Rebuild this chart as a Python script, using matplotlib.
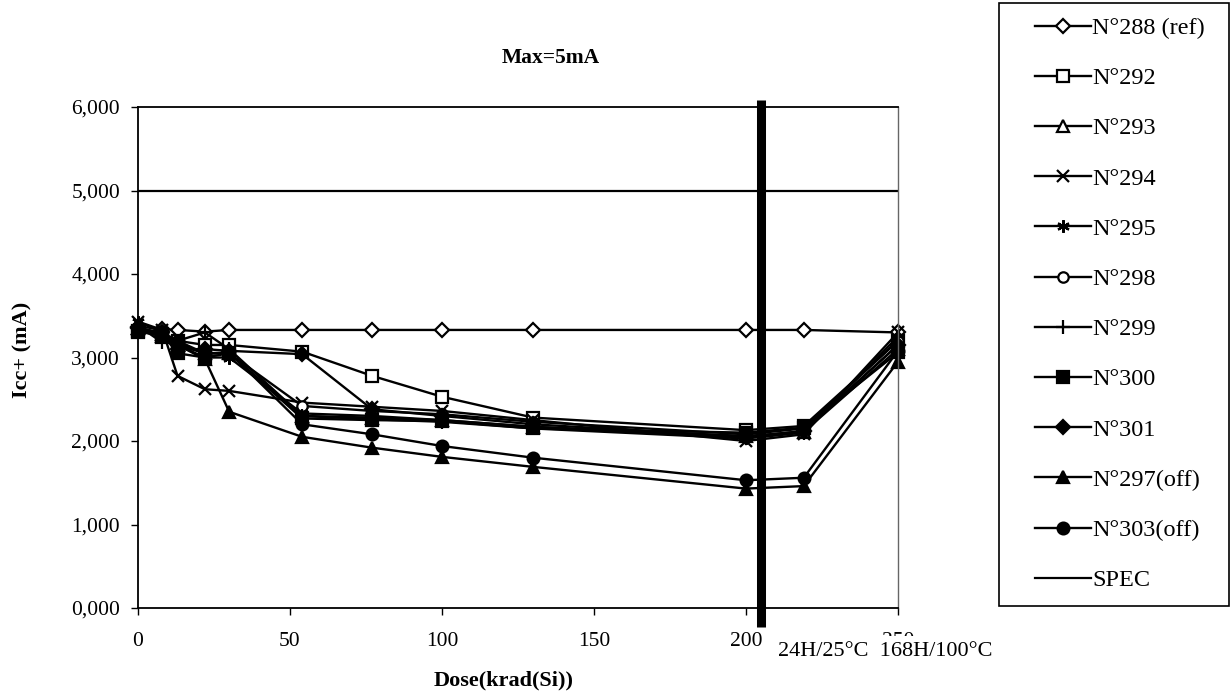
import matplotlib
matplotlib.use("Agg")
import matplotlib.pyplot as plt
from matplotlib.patches import Rectangle
from matplotlib.ticker import FuncFormatter

plt.rcParams['font.family'] = ['Liberation Serif', 'DejaVu Serif']

# Dose steps (krad(Si)); the last two points are the annealing steps
dose = [0, 8, 13, 22, 30, 54, 77, 100, 130, 200, 219, 250]

n288 = [3370, 3340, 3330, 3310, 3330, 3330, 3330, 3330, 3330, 3330, 3330, 3300]
n292 = [3320, 3250, 3200, 3150, 3150, 3070, 2780, 2530, 2280, 2130, 2180, 3200]
n293 = [3350, 3260, 3150, 3050, 3050, 2300, 2280, 2250, 2170, 2060, 2110, 3100]
n294 = [3430, 3330, 2780, 2620, 2600, 2460, 2410, 2360, 2250, 2000, 2080, 3300]
n295 = [3430, 3300, 3150, 3000, 3000, 2330, 2300, 2250, 2170, 2040, 2120, 3150]
n298 = [3360, 3280, 3170, 3050, 3050, 2420, 2360, 2320, 2230, 2080, 2150, 3200]
n299 = [3380, 3180, 3200, 3300, 3100, 2300, 2260, 2230, 2150, 2030, 2100, 3250]
n300 = [3300, 3280, 3050, 3000, 3050, 2270, 2250, 2240, 2150, 2100, 2160, 3060]
n301 = [3350, 3300, 3100, 3100, 3080, 3040, 2380, 2300, 2200, 2050, 2120, 3150]
n297 = [3350, 3280, 3150, 2980, 2350, 2050, 1920, 1810, 1690, 1430, 1460, 2950]
n303 = [3340, 3300, 3200, 3050, 3060, 2200, 2080, 1940, 1800, 1530, 1560, 3080]

spec_dose = [0, 250]
spec_value = [5000, 5000]
anneal_dose = 205

labels = ["N°288 (ref)", "N°292", "N°293", "N°294", "N°295", "N°298",
          "N°299", "N°300", "N°301", "N°297(off)", "N°303(off)", "SPEC"]
series = [n288, n292, n293, n294, n295, n298, n299, n300, n301, n297, n303]
x_ticks = [0, 50, 100, 150, 200, 250]
y_ticks = [0, 1000, 2000, 3000, 4000, 5000, 6000]

# marker, filled?, size
styles = [
    ("D", False, 7),
    ("s", False, 8.5),
    ("^", False, 8.5),
    ("x", True, 9),
    ((6, 2, 0), True, 9),
    ("o", False, 7.5),
    ("+", True, 10),
    ("s", True, 8.5),
    ("D", True, 7),
    ("^", True, 9),
    ("o", True, 8.5),
]

W, H = 1231, 695
fig = plt.figure(figsize=(W / 100, H / 100), dpi=100)
ax = fig.add_axes([138 / W, 1 - 608 / H, 760 / W, 501 / H])

handles = []
for vals, (mk, filled, ms) in zip(series, styles):
    h, = ax.plot(dose, vals, color="black", lw=1.7, marker=mk, markersize=ms,
                 markerfacecolor="black" if filled else "white",
                 markeredgecolor="black", markeredgewidth=1.6, clip_on=False)
    handles.append(h)
h, = ax.plot(spec_dose, spec_value, color="black", lw=1.6)
handles.append(h)

# annealing separator
ax.plot([anneal_dose, anneal_dose], [-230, 6080], color="black", lw=6.5,
        solid_capstyle="butt", clip_on=False, zorder=5)

ax.set_xlim(0, 250)
ax.set_ylim(0, 6000)
ax.set_xticks(x_ticks)
ax.set_yticks(y_ticks)
ax.yaxis.set_major_formatter(FuncFormatter(lambda v, p: f"{v / 1000:.3f}".replace(".", ",")))
ax.tick_params(direction="out", length=5, width=1, labelsize=15.5, colors="black")
ax.tick_params(axis="x", pad=12)
ax.tick_params(axis="y", pad=8)
for s in ("left", "bottom"):
    ax.spines[s].set_linewidth(1.3)
ax.spines["top"].set_linewidth(1.3)
ax.spines["right"].set_color("#666666")
ax.spines["right"].set_linewidth(1.0)

fig.text(502 / W, 1 - 58 / H, "Max=5mA", ha="left", va="center",
         fontsize=15.5, fontweight="bold")
fig.text(504 / W, 1 - 680 / H, "Dose(krad(Si))", ha="center", va="center",
         fontsize=16, fontweight="bold")
fig.text(22 / W, 1 - 350 / H, "Icc+ (mA)", ha="center", va="center",
         rotation=90, fontsize=16, fontweight="bold")
fig.text(778 / W, 1 - 651 / H, "24H/25°C  168H/100°C", ha="left", va="center",
         fontsize=16, zorder=10,
         bbox=dict(facecolor="white", edgecolor="none", pad=4))

# legend box
fig.patches.append(Rectangle((999 / W, 1 - 606 / H), 230 / W, 603 / H,
                             transform=fig.transFigure, facecolor="white",
                             edgecolor="black", lw=1.2, zorder=0))
fig.legend(handles, labels, loc="upper left",
           bbox_to_anchor=(1035 / W, 1 - 17 / H), frameon=False,
           fontsize=17.5, numpoints=1, handlelength=2.3, handletextpad=0.05,
           labelspacing=1.16, borderpad=0, borderaxespad=0)

fig.savefig("out.png", dpi=100)
